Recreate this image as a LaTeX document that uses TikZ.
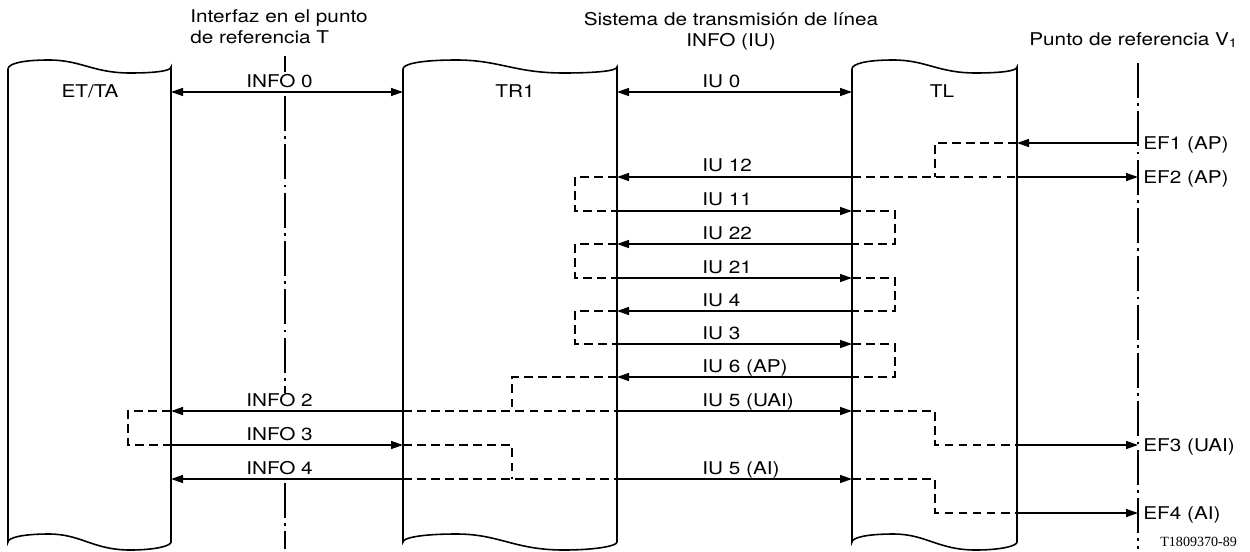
\documentclass[tikz,border=0pt]{standalone}
\usepackage{fontspec}
\setmainfont{TeX Gyre Heros}[FakeStretch=1.18]
\newfontfamily\notefont{Liberation Serif}
\usetikzlibrary{arrows.meta}

% box with wavy top and bottom, #1 left x, #2 right x
\newcommand{\wavebox}[2]{%
  \pgfmathsetmacro{\boxw}{#2-#1}%
  \draw[boxline] (#1,542) -- (#1,69)
    .. controls (#1,64) and ({#1+0.08*\boxw},60) .. ({#1+0.25*\boxw},60)
    .. controls ({#1+0.45*\boxw},60) and ({#1+0.52*\boxw},73) .. ({#1+0.75*\boxw},73)
    .. controls ({#1+0.9*\boxw},73) and (#2,71) .. (#2,67)
    -- (#2,542)
    .. controls (#2,546) and ({#1+0.9*\boxw},550) .. ({#1+0.75*\boxw},550)
    .. controls ({#1+0.52*\boxw},550) and ({#1+0.45*\boxw},534) .. ({#1+0.25*\boxw},534)
    .. controls ({#1+0.08*\boxw},534) and (#1,538) .. (#1,542) -- cycle;}

\begin{document}
\begin{tikzpicture}[x=0.02cm, y=-0.02cm,
    boxline/.style={line width=0.9pt},
    sig/.style={line width=0.8pt, -{Triangle[length=2.4mm,width=1.6mm]}},
    duplex/.style={line width=0.8pt, {Triangle[length=2.4mm,width=1.6mm]}-{Triangle[length=2.4mm,width=1.6mm]}},
    loopline/.style={line width=0.9pt, dash pattern=on 5pt off 3pt},
    refline/.style={line width=0.9pt, dash pattern=on 20pt off 3pt on 1.5pt off 3pt},
    lbl/.style={anchor=base west, inner sep=0pt},
    eflbl/.style={anchor=base west, inner sep=0pt}]

    \useasboundingbox (0,0) rectangle (1250,551);

    % titles
    \node[anchor=north west, align=left, inner sep=0pt] (ttitle) at (190,9.5)
        {Interfaz en el punto\\de referencia T};
    \node[anchor=north, align=center, inner sep=0pt] (ltitle) at (731,12)
        {Sistema de transmisión de línea\\INFO (IU)};
    \node[anchor=base west, inner sep=0pt] (vtitle) at (1029,45)
        {Punto de referencia V\textsubscript{1}};

    % boxes
    \wavebox{8}{171}
    \wavebox{403}{617}
    \wavebox{852}{1017}
    \node[anchor=base] (etta) at (90,97) {ET/TA};
    \node[anchor=base] (tr1) at (515,97) {TR1};
    \node[anchor=base] (tl) at (942,97) {TL};

    % reference lines
    \draw[refline] (285,56) -- (285,72);
    \draw[refline] (285,96) -- (285,393);
    \draw[refline] (285,483) -- (285,549);
    \draw[refline] (1138,63) -- (1138,549);

    % edges and rows
    \coordinate (ettaR) at (171,0);
    \coordinate (trL) at (403,0);
    \coordinate (trR) at (617,0);
    \coordinate (tlL) at (852,0);
    \coordinate (tlR) at (1017,0);
    \coordinate (vref) at (1138,0);
    \coordinate (xA) at (128,0);
    \coordinate (xB) at (512,0);
    \coordinate (xC) at (575,0);
    \coordinate (xD) at (895,0);
    \coordinate (xE) at (935,0);
    \foreach \n/\y in {r0/92, ref1/143, r12/177, r11/211, r22/244, r21/278, r4/311,
                       r3/344, r6/377, r5u/411, ref3/445, r5a/479, ref4/513}
        \coordinate (\n) at (0,\y);

    % dashed paths through the boxes
    \draw[loopline] (tlR |- ref1) -- (xE |- ref1) -- (xE |- r12);
    \draw[loopline] (tlL |- r12) -- (tlR |- r12);
    \foreach \a/\b in {r12/r11, r22/r21, r4/r3}
        \draw[loopline] (trR |- \a) -- (xC |- \a) -- (xC |- \b) -- (trR |- \b);
    \foreach \a/\b in {r11/r22, r21/r4, r3/r6}
        \draw[loopline] (tlL |- \a) -- (xD |- \a) -- (xD |- \b) -- (tlL |- \b);
    \draw[loopline] (trR |- r6) -- (xB |- r6) -- (xB |- r5u);
    \draw[loopline] (trL |- r5u) -- (trR |- r5u);
    \draw[loopline] (ettaR |- r5u) -- (xA |- r5u) -- (xA |- ref3) -- (ettaR |- ref3);
    \draw[loopline] (trL |- ref3) -- (xB |- ref3) -- (xB |- r5a);
    \draw[loopline] (trL |- r5a) -- (trR |- r5a);
    \foreach \a/\b in {r5u/ref3, r5a/ref4}
        \draw[loopline] (tlL |- \a) -- (xE |- \a) -- (xE |- \b) -- (tlR |- \b);

    % signals
    \draw[duplex] (ettaR |- r0) -- (trL |- r0);
    \draw[duplex] (trR |- r0) -- (tlL |- r0);
    \draw[sig] (vref |- ref1) -- (tlR |- ref1);
    \draw[sig] (tlR |- r12) -- (vref |- r12);
    \foreach \r/\a/\b in {r12/tlL/trR, r11/trR/tlL, r22/tlL/trR, r21/trR/tlL,
                          r4/tlL/trR, r3/trR/tlL, r6/tlL/trR, r5u/trR/tlL, r5a/trR/tlL}
        \draw[sig] (\a |- \r) -- (\b |- \r);
    \draw[sig] (trL |- r5u) -- (ettaR |- r5u);
    \draw[sig] (ettaR |- ref3) -- (trL |- ref3);
    \draw[sig] (trL |- r5a) -- (ettaR |- r5a);
    \draw[sig] (tlR |- ref3) -- (vref |- ref3);
    \draw[sig] (tlR |- ref4) -- (vref |- ref4);

    % labels
    \node[lbl] (info0) at (246,87) {INFO 0};
    \node[lbl] (info2) at (246,406) {INFO 2};
    \node[lbl] (info3) at (246,440) {INFO 3};
    \node[lbl] (info4) at (246,474) {INFO 4};
    \node[lbl] (iu0) at (702,87) {IU 0};
    \node[lbl] (iu12) at (702,171) {IU 12};
    \node[lbl] (iu11) at (702,205) {IU 11};
    \node[lbl] (iu22) at (702,239) {IU 22};
    \node[lbl] (iu21) at (702,273) {IU 21};
    \node[lbl] (iu4) at (702,306) {IU 4};
    \node[lbl] (iu3) at (702,339) {IU 3};
    \node[lbl] (iu6) at (702,372) {IU 6 (AP)};
    \node[lbl] (iu5u) at (702,406) {IU 5 (UAI)};
    \node[lbl] (iu5a) at (702,474) {IU 5 (AI)};
    \node[eflbl] (ef1) at (1143,149) {EF1 (AP)};
    \node[eflbl] (ef2) at (1143,183) {EF2 (AP)};
    \node[eflbl] (ef3) at (1143,451) {EF3 (UAI)};
    \node[eflbl] (ef4) at (1143,519) {EF4 (AI)};
    \node[anchor=base west, inner sep=0pt, font=\notefont\fontsize{8}{9}\selectfont]
        (fig) at (1160,546) {T1809370-89};
\end{tikzpicture}
\end{document}
